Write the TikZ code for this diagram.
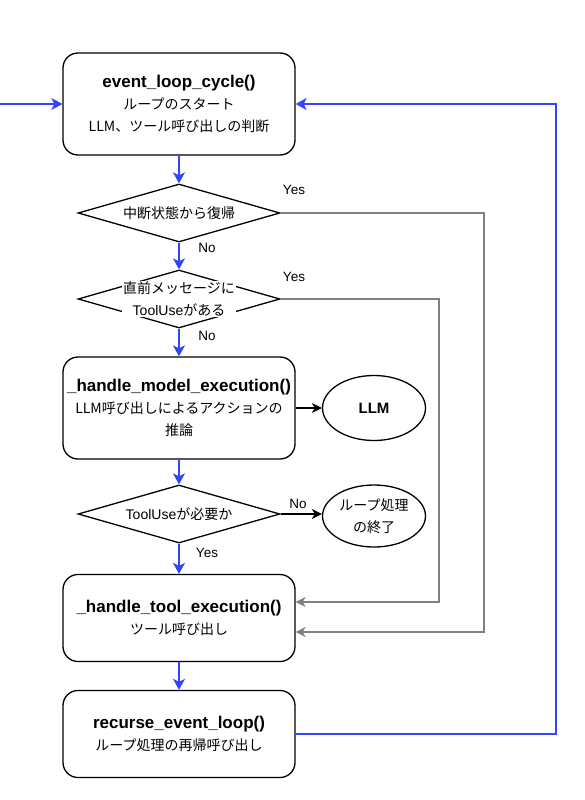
\documentclass[tikz,border=0pt]{standalone}
\usepackage{fontspec}
\setmainfont{Liberation Sans}
\newfontfamily\jp{Noto Sans CJK JP}
\usetikzlibrary{shapes.geometric,arrows.meta}
\definecolor{loopblue}{RGB}{51,68,255}
\definecolor{skipgrey}{RGB}{128,128,128}
\newcommand{\fname}[1]{{\normalfont\bfseries\fontsize{17}{22}\selectfont #1}}

\begin{document}
\begin{tikzpicture}[x=1pt, y=-1pt,
  procbox/.style={draw, line width=1.3pt, rounded corners=15pt, minimum width=232pt, inner sep=2pt, align=center, font=\jp\fontsize{14}{22}\selectfont},
  decbox/.style={draw, diamond, line width=1.3pt, minimum width=202pt, minimum height=58pt, inner sep=0pt},
  dectext/.style={align=center, font=\jp\fontsize{14}{22}\selectfont, inner sep=1pt},
  endpoint/.style={draw, ellipse, line width=1.3pt, minimum width=103pt, inner sep=0pt, align=center, font=\jp\fontsize{14}{22}\selectfont},
  flowblue/.style={draw=loopblue, line width=2.8pt, -{Stealth[length=11pt, width=12pt, inset=3pt]}},
  flowblack/.style={draw=black, line width=1.3pt, -{Stealth[length=10pt, width=10pt, inset=3pt]}},
  flowgrey/.style={draw=skipgrey, line width=1.3pt, -{Stealth[length=10pt, width=10pt, inset=3pt]}},
  edgelabel/.style={font=\fontsize{13.5}{14}\selectfont, inner sep=0pt}]

% Set the canvas to the reference size
\useasboundingbox (0,0) rectangle (584,800);

% Draw the process boxes
\node[procbox, minimum height=102pt] (cycle) at (179,104) {\fname{event\_loop\_cycle()}\\ループのスタート\\LLM、ツール呼び出しの判断};
\node[procbox, minimum height=102pt] (model) at (179,408) {\fname{\_handle\_model\_execution()}\\LLM呼び出しによるアクションの\\推論};
\node[procbox, minimum height=87pt] (tool) at (179,618) {\fname{\_handle\_tool\_execution()}\\ツール呼び出し};
\node[procbox, minimum height=87pt] (recurse) at (179,734) {\fname{recurse\_event\_loop()}\\ループ処理の再帰呼び出し};

% Draw the decisions
\node[decbox] (resume) at (179,213) {};
\node[dectext] (resumet) at (resume) {中断状態から復帰};
\node[decbox] (pending) at (179,299) {};
\node[dectext, fill=white] (pendingt) at (pending) {直前メッセージに\\{\normalfont ToolUse}がある};
\node[decbox] (needtool) at (179,514) {};
\node[dectext] (needtoolt) at (needtool) {{\normalfont ToolUse}が必要か};

% Draw the end points
\node[endpoint, minimum height=65pt] (llm) at (374,408) {{\normalfont\bfseries\fontsize{15}{18}\selectfont LLM}};
\node[endpoint, minimum height=62pt] (stop) at (374,516) {ループ処理\\の終了};

% Loop corners
\coordinate (entry) at (0,104);
\coordinate (loopx) at (556,0);
\coordinate (skipA) at (484,0);
\coordinate (skipB) at (439,0);

% Main flow
\draw[flowblue] (entry) -- (cycle.west);
\draw[flowblue] (cycle) -- (resume.north);
\draw[flowblue] (resume) -- (pending.north);
\draw[flowblue] (pending) -- (model.north);
\draw[flowblue] (model) -- (needtool.north);
\draw[flowblue] (needtool) -- (tool.north);
\draw[flowblue] (tool) -- (recurse.north);
\draw[flowblue] (recurse.east) -- (recurse.east -| loopx) -- (cycle.east -| loopx) -- (cycle.east);

% Side branches
\draw[flowblack] (model.east) -- (llm.west);
\draw[flowblack] (needtool.east) -- (needtool.east -| stop.west);
\draw[flowgrey] (resume.east) -- (resume.east -| skipA) |- ([yshift=-14pt]tool.east);
\draw[flowgrey] (pending.east) -- (pending.east -| skipB) |- ([yshift=16pt]tool.east);

% Branch labels
\node[edgelabel] (yes1) at (294,190) {Yes};
\node[edgelabel] (no1) at (207,248) {No};
\node[edgelabel] (yes2) at (294,277) {Yes};
\node[edgelabel] (no2) at (207,336) {No};
\node[edgelabel] (no3) at (298,504) {No};
\node[edgelabel] (yes3) at (207,553) {Yes};
\end{tikzpicture}
\end{document}
